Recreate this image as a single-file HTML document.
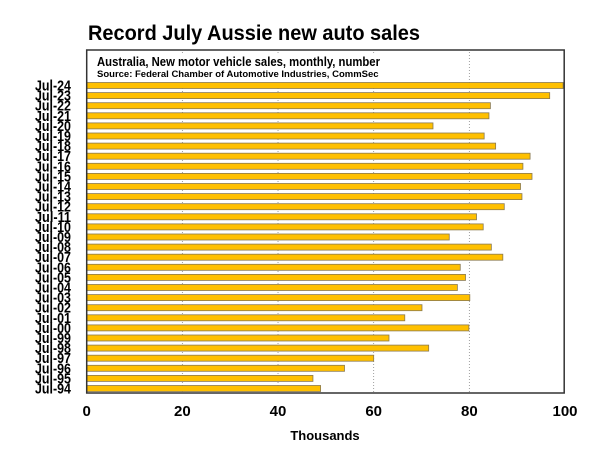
<!DOCTYPE html>
<html><head><meta charset="utf-8"><style>
body{margin:0;background:#fff;width:600px;height:450px;overflow:hidden;font-family:"Liberation Sans",Arial,sans-serif}
</style></head><body>
<svg width="600" height="450" xmlns="http://www.w3.org/2000/svg" font-family="Liberation Sans, Arial, sans-serif">
<text x="88" y="40" font-size="21" font-weight="bold" textLength="332" lengthAdjust="spacingAndGlyphs">Record July Aussie new auto sales</text>
<g id="grid"></g>
<rect x="95" y="54" width="290" height="30" fill="#fff"/>
<text x="97" y="66" font-size="13" font-weight="bold" textLength="283" lengthAdjust="spacingAndGlyphs">Australia, New motor vehicle sales, monthly, number</text>
<text x="97" y="77" font-size="9.5" font-weight="bold">Source: Federal Chamber of Automotive Industries, CommSec</text>
<g id="bars"></g>
<g id="ylabels"></g>
<g id="xlabels"></g>
<rect x="86.7" y="50" width="477.5" height="343" fill="none" stroke="#333" stroke-width="1.5"/>
<text x="325" y="440" font-size="13" font-weight="bold" text-anchor="middle">Thousands</text>
</svg>
<script>
const categories=["Jul-24","Jul-23","Jul-22","Jul-21","Jul-20","Jul-19","Jul-18","Jul-17","Jul-16","Jul-15","Jul-14","Jul-13","Jul-12","Jul-11","Jul-10","Jul-09","Jul-08","Jul-07","Jul-06","Jul-05","Jul-04","Jul-03","Jul-02","Jul-01","Jul-00","Jul-99","Jul-98","Jul-97","Jul-96","Jul-95","Jul-94"];
const sales=[99.6,96.8,84.4,84.1,72.4,83.1,85.5,92.7,91.2,93.1,90.7,91.0,87.3,81.5,82.9,75.8,84.6,87.0,78.1,79.2,77.5,80.1,70.1,66.5,79.9,63.2,71.5,60.0,53.9,47.3,48.9];
const xTicks=[0,20,40,60,80,100];
const NS="http://www.w3.org/2000/svg";
const x0=86.7,x1=565,yTop=85.5,step=10.1;
function xs(v){return x0+(v/100)*(x1-x0);}
function ys(i){return yTop+i*step;}
const grid=document.getElementById('grid'),bars=document.getElementById('bars'),yl=document.getElementById('ylabels'),xl=document.getElementById('xlabels');
xTicks.forEach(t=>{
 if(t>0&&t<100){const l=document.createElementNS(NS,'line');
 l.setAttribute('x1',xs(t));l.setAttribute('x2',xs(t));l.setAttribute('y1',52);l.setAttribute('y2',393);
 l.setAttribute('stroke','#888');l.setAttribute('stroke-dasharray','1,2');l.setAttribute('stroke-width','0.8');
 
 
 grid.appendChild(l);}
 const tx=document.createElementNS(NS,'text');
 tx.setAttribute('x',xs(t));tx.setAttribute('y',416);tx.setAttribute('font-size','15');tx.setAttribute('font-weight','bold');tx.setAttribute('text-anchor','middle');
 tx.textContent=t;
 
 
 xl.appendChild(tx);
});
categories.forEach((c,i)=>{
 const r=document.createElementNS(NS,'rect');
 r.setAttribute('x',x0);r.setAttribute('y',ys(i)-3);r.setAttribute('width',xs(sales[i])-x0);r.setAttribute('height',6);
 r.setAttribute('fill','#ffc000');r.setAttribute('stroke','#8a7a50');r.setAttribute('stroke-width','0.8');
 
 
 bars.appendChild(r);
 const t=document.createElementNS(NS,'text');
 t.setAttribute('x',71);t.setAttribute('y',ys(i)+5);t.setAttribute('font-size','14.5');t.setAttribute('font-weight','bold');t.setAttribute('text-anchor','end');
 t.setAttribute('textLength','36');t.setAttribute('lengthAdjust','spacingAndGlyphs');
 t.textContent=c;
 
 
 yl.appendChild(t);
});
</script>
</body></html>
